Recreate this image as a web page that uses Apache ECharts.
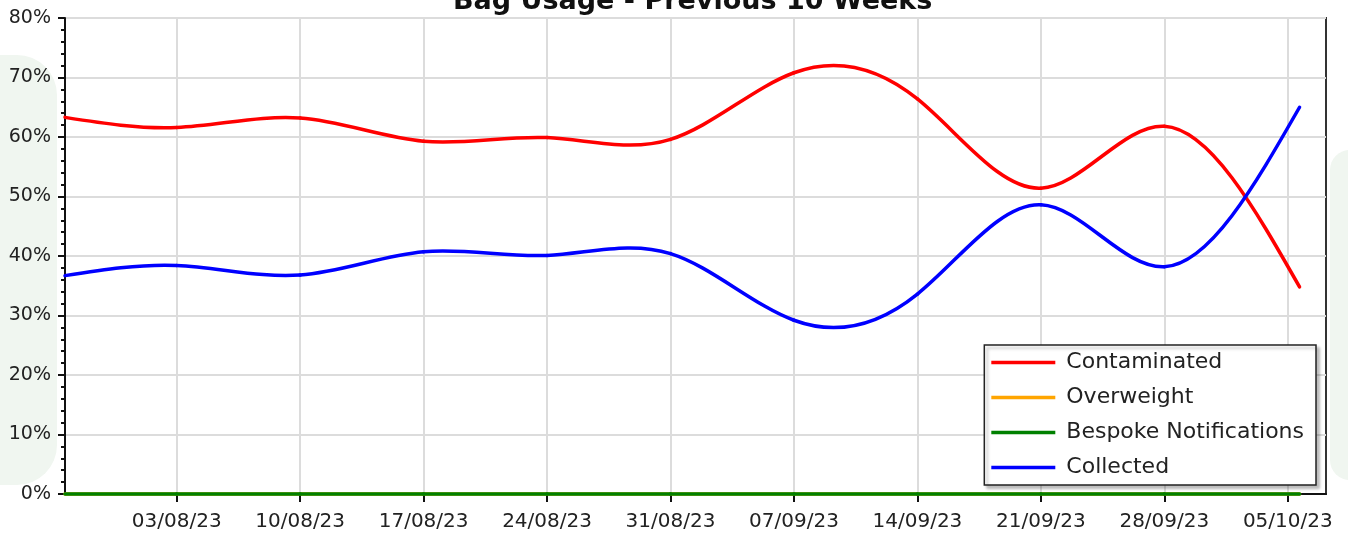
<!DOCTYPE html>
<html>
<head>
<meta charset="utf-8">
<title>Bag Usage - Previous 10 Weeks</title>
<script src="https://cdn.jsdelivr.net/npm/echarts@6/dist/echarts.min.js"></script>
<style>
  html, body { margin: 0; padding: 0; background: #fff; }
  #chart { width: 1348px; height: 533px; }
</style>
</head>
<body>
<div id="chart"></div>
<script>
// data
var pointTimes = ['2023-07-27 16:00', '2023-08-03 00:00', '2023-08-10 00:00', '2023-08-17 00:00',
  '2023-08-24 00:00', '2023-08-31 00:00', '2023-09-07 00:00', '2023-09-14 00:00',
  '2023-09-21 00:00', '2023-09-28 00:00', '2023-10-05 16:00'];
var contaminated = [63.3, 61.6, 63.2, 59.3, 59.9, 59.6, 70.8, 66.4, 51.4, 61.8, 34.8];
var overweight   = [0, 0, 0, 0, 0, 0, 0, 0, 0, 0, 0];
var bespoke      = [0, 0, 0, 0, 0, 0, 0, 0, 0, 0, 0];
var collected    = [36.7, 38.4, 36.8, 40.7, 40.1, 40.4, 29.2, 33.6, 48.6, 38.2, 65.0];
var tickDates = ['2023-08-03 00:00', '2023-08-10 00:00', '2023-08-17 00:00', '2023-08-24 00:00',
  '2023-08-31 00:00', '2023-09-07 00:00', '2023-09-14 00:00', '2023-09-21 00:00',
  '2023-09-28 00:00', '2023-10-05 00:00'];
var axisStart = '2023-07-27 16:00';
var axisEnd = '2023-10-07 04:00';

function toTime(s) { return new Date(s.replace(' ', 'T')).getTime(); }
function pad(n) { return (n < 10 ? '0' : '') + n; }
function pairs(vals) {
  return vals.map(function(v, i) { return [toTime(pointTimes[i]), v]; });
}

var ink = '#222';
var font = 'DejaVu Sans';

var chart = echarts.init(document.getElementById('chart'), null, { renderer: 'canvas' });

// slopes of a natural cubic spline through pixel points
function splineSlopes(c) {
  var n = c.length - 1, h = [], M = new Array(n + 1).fill(0);
  for (var i = 0; i < n; i++) h.push(c[i + 1][0] - c[i][0]);
  // tridiagonal solve (Thomas) for interior second derivatives
  var a = [], b = [], d = [], r = [];
  for (var i = 1; i < n; i++) {
    a[i] = h[i - 1]; b[i] = 2 * (h[i - 1] + h[i]); d[i] = h[i];
    r[i] = 6 * ((c[i + 1][1] - c[i][1]) / h[i] - (c[i][1] - c[i - 1][1]) / h[i - 1]);
  }
  for (var i = 2; i < n; i++) {
    var m = a[i] / b[i - 1];
    b[i] -= m * d[i - 1]; r[i] -= m * r[i - 1];
  }
  for (var i = n - 1; i >= 1; i--) {
    M[i] = (r[i] - (i < n - 1 ? d[i] * M[i + 1] : 0)) / b[i];
  }
  var s = [];
  for (var i = 0; i < n; i++) {
    var sl = (c[i + 1][1] - c[i][1]) / h[i];
    s.push([sl - h[i] * (2 * M[i] + M[i + 1]) / 6, sl + h[i] * (M[i] + 2 * M[i + 1]) / 6]);
  }
  return s;
}

// each data item draws the spline piece to the next point, placed by api.coord
function splineSeries(name, vals, color) {
  var pts = pairs(vals);
  return {
    name: name,
    type: 'custom',
    data: pts,
    encode: { x: 0, y: 1 },
    itemStyle: { color: color },
    renderItem: function(params, api) {
      var i = params.dataIndex;
      if (i >= pts.length - 1) return null;
      var c = pts.map(function(p) { return api.coord(p); });
      var s = splineSlopes(c)[i];
      var h = (c[i + 1][0] - c[i][0]) / 3;
      return {
        type: 'bezierCurve',
        shape: {
          x1: c[i][0], y1: c[i][1],
          cpx1: c[i][0] + h, cpy1: c[i][1] + h * s[0],
          cpx2: c[i + 1][0] - h, cpy2: c[i + 1][1] - h * s[1],
          x2: c[i + 1][0], y2: c[i + 1][1]
        },
        style: { fill: 'none', stroke: color, lineWidth: 3.5, lineCap: 'round' }
      };
    }
  };
}

chart.setOption({
  animation: false,
  backgroundColor: '#fff',
  textStyle: { fontFamily: font },
  // faint watermark behind the chart
  graphic: [
    { type: 'rect', z: -10, silent: true, shape: { x: -40, y: 55, width: 97, height: 430, r: 40 },
      style: { fill: '#f0f6f0' } },
    { type: 'rect', z: -10, silent: true, shape: { x: 1330, y: 150, width: 60, height: 330, r: 20 },
      style: { fill: '#f0f6f0' } }
  ],
  title: {
    text: 'Bag Usage - Previous 10 Weeks',
    left: 448,
    top: -17,
    textStyle: { fontFamily: font, fontSize: 27, fontWeight: 'bold', color: '#111' }
  },
  legend: {
    orient: 'vertical',
    right: 32,
    top: 345,
    backgroundColor: '#fff',
    borderColor: '#222',
    borderWidth: 1.5,
    padding: [5, 12, 5, 7],
    icon: 'rect',
    itemWidth: 64,
    itemHeight: 3.5,
    itemGap: 10,
    shadowColor: 'rgba(0,0,0,0.25)',
    shadowBlur: 3,
    shadowOffsetX: 3,
    shadowOffsetY: 3,
    textStyle: { fontFamily: font, fontSize: 22, color: ink, lineHeight: 25, padding: [0, 0, 0, 6] },
    data: ['Contaminated', 'Overweight', 'Bespoke Notifications', 'Collected']
  },
  grid: {
    left: 65, right: 22, top: 18, bottom: 39,
    show: true,
    backgroundColor: '#fff',
    borderColor: '#333',
    borderWidth: 2
  },
  xAxis: {
    type: 'value',
    min: toTime(axisStart),
    max: toTime(axisEnd),
    axisLine: { lineStyle: { color: '#111', width: 2 } },
    axisTick: {
      show: true, length: 8, lineStyle: { color: '#111', width: 2 },
      customValues: tickDates.map(toTime)
    },
    axisLabel: {
      customValues: tickDates.map(toTime),
      color: ink, fontSize: 20, fontFamily: font, margin: 18,
      formatter: function(v) {
        var d = new Date(v);
        return pad(d.getDate()) + '/' + pad(d.getMonth() + 1) + '/' + pad(d.getFullYear() % 100);
      }
    },
    splitLine: { show: true, lineStyle: { color: '#dcdcdc', width: 2 } }
  },
  yAxis: {
    type: 'value',
    min: 0, max: 80, interval: 10,
    axisLine: { show: true, lineStyle: { color: '#111', width: 2 } },
    axisTick: { show: true, length: 7, lineStyle: { color: '#111', width: 2 } },
    minorTick: { show: true, splitNumber: 5, length: 4, lineStyle: { color: '#111', width: 2 } },
    axisLabel: { color: ink, fontSize: 19, fontFamily: font, margin: 14, formatter: '{value}%' },
    splitLine: { show: true, lineStyle: { color: '#dcdcdc', width: 2 } }
  },
  series: [
    splineSeries('Contaminated', contaminated, '#ff0000'),
    splineSeries('Overweight', overweight, '#ffa500'),
    splineSeries('Bespoke Notifications', bespoke, '#008000'),
    splineSeries('Collected', collected, '#0000ff')
  ]
});
window.addEventListener('resize', function() { chart.resize(); });
</script>
</body>
</html>
